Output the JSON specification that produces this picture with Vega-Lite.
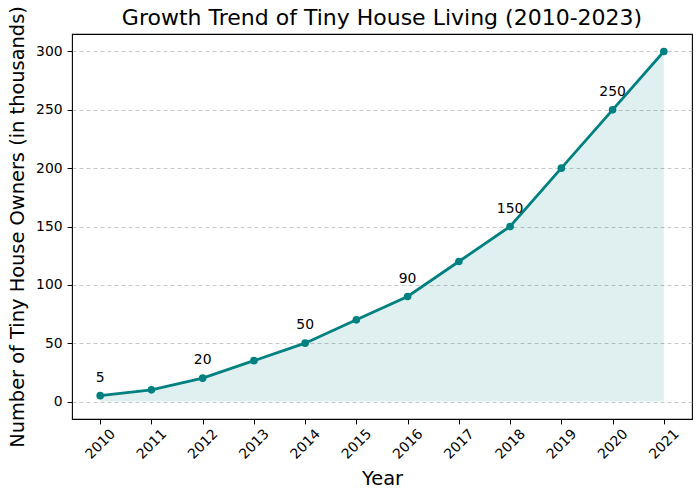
{
  "$schema": "https://vega.github.io/schema/vega-lite/v6.json",
  "autosize": {"type": "none"},
  "width": 620,
  "height": 385,
  "padding": {"left": 72, "top": 34, "right": 8, "bottom": 79},
  "background": "white",
  "title": {
    "text": "Growth Trend of Tiny House Living (2010-2023)",
    "font": "DejaVu Sans",
    "fontSize": 22,
    "fontWeight": "normal",
    "color": "black",
    "anchor": "middle",
    "frame": "group",
    "baseline": "alphabetic",
    "offset": 8,
    "dy": 49
  },
  "config": {
    "view": {"stroke": "black", "strokeWidth": 1.1},
    "font": "DejaVu Sans"
  },
  "data": {
    "values": [
      {"year": 2010, "owners": 5},
      {"year": 2011, "owners": 10},
      {"year": 2012, "owners": 20},
      {"year": 2013, "owners": 35},
      {"year": 2014, "owners": 50},
      {"year": 2015, "owners": 70},
      {"year": 2016, "owners": 90},
      {"year": 2017, "owners": 120},
      {"year": 2018, "owners": 150},
      {"year": 2019, "owners": 200},
      {"year": 2020, "owners": 250},
      {"year": 2021, "owners": 300}
    ]
  },
  "encoding": {
    "x": {
      "field": "year",
      "type": "quantitative",
      "scale": {"domain": [2009.45, 2021.55], "nice": false, "zero": false},
      "axis": {
        "title": "Year",
        "titleFont": "DejaVu Sans",
        "titleFontSize": 19.4,
        "titleFontWeight": "normal",
        "titleColor": "black",
        "titleBaseline": "alphabetic",
        "titleY": 65,
        "values": [2010, 2011, 2012, 2013, 2014, 2015, 2016, 2017, 2018, 2019, 2020, 2021],
        "format": "d",
        "labelAngle": -45,
        "labelAlign": "center",
        "labelBaseline": "middle",
        "labelPadding": 20,
        "labelFont": "DejaVu Sans",
        "labelFontSize": 13.9,
        "labelColor": "black",
        "labelOverlap": false,
        "labelFlush": false,
        "tickColor": "black",
        "tickSize": 4.9,
        "domain": false,
        "grid": false
      }
    },
    "y": {
      "field": "owners",
      "type": "quantitative",
      "scale": {"domain": [-15, 315], "nice": false, "zero": false},
      "axis": {
        "title": "Number of Tiny House Owners (in thousands)",
        "titleFont": "DejaVu Sans",
        "titleFontSize": 19.4,
        "titleFontWeight": "normal",
        "titleColor": "black",
        "titleBaseline": "alphabetic",
        "titleX": -49,
        "values": [0, 50, 100, 150, 200, 250, 300],
        "labelFont": "DejaVu Sans",
        "labelFontSize": 13.9,
        "labelColor": "black",
        "labelPadding": 5,
        "labelFlush": false,
        "tickColor": "black",
        "tickSize": 4.9,
        "domain": false,
        "grid": true,
        "gridColor": "#b0b0b0",
        "gridOpacity": 0.7,
        "gridDash": [4, 3],
        "gridWidth": 1
      }
    }
  },
  "layer": [
    {
      "mark": {"type": "area", "color": "teal", "opacity": 0.12},
      "encoding": {"y2": {"datum": 0}}
    },
    {
      "mark": {"type": "line", "color": "teal", "strokeWidth": 2.8},
      "encoding": {}
    },
    {
      "mark": {"type": "circle", "color": "teal", "size": 58, "opacity": 1},
      "encoding": {}
    },
    {
      "transform": [{"filter": {"field": "year", "oneOf": [2010, 2012, 2014, 2016, 2018, 2020]}}],
      "mark": {"type": "text", "font": "DejaVu Sans", "fontSize": 13.9, "color": "black", "align": "center", "baseline": "alphabetic", "dy": -14},
      "encoding": {"text": {"field": "owners", "type": "quantitative"}}
    }
  ]
}
